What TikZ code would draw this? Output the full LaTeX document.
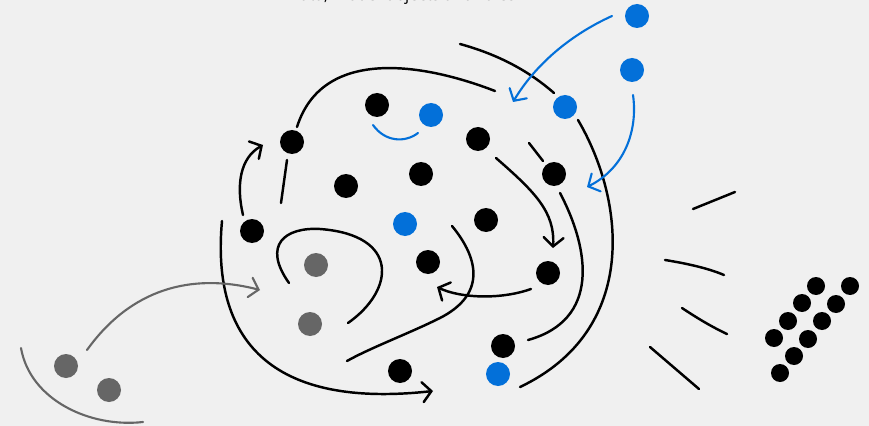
\documentclass[tikz,border=0pt]{standalone}
\usepackage{fontspec}
\setmainfont{Open Sans}
\usetikzlibrary{arrows.meta}
\definecolor{bg}{HTML}{F0F0F0}
\definecolor{blu}{HTML}{0370D9}
\definecolor{gry}{HTML}{666666}
\begin{document}
\begin{tikzpicture}[x=0.03cm,y=-0.03cm,
  dotk/.style={circle,fill=black,inner sep=0pt,minimum size=0.72cm},
  dotb/.style={circle,fill=blu,inner sep=0pt,minimum size=0.72cm},
  dotg/.style={circle,fill=gry,inner sep=0pt,minimum size=0.72cm},
  dots/.style={circle,fill=black,inner sep=0pt,minimum size=0.54cm},
  stroke/.style={line width=2.1pt,line cap=round},
  bstroke/.style={line width=1.8pt,line cap=round,draw=blu},
  gstroke/.style={line width=1.8pt,line cap=round,draw=gry},
  tip/.style={-{Straight Barb[length=7.5pt,width=17pt,line cap=round]}}]
\fill[bg] (0,0) rectangle (869,426);
\useasboundingbox (0,0) rectangle (869,426);
\node[anchor=base west,font=\fontsize{14}{16}\selectfont,text=black] (title) at (284,0.2) {Data, model objects and rules};
% black dots
\node[dotk] (k1) at (377,105) {};
\node[dotk] (k2) at (292,142) {};
\node[dotk] (k3) at (478,139) {};
\node[dotk] (k4) at (421,174) {};
\node[dotk] (k5) at (346,186) {};
\node[dotk] (k6) at (554,174) {};
\node[dotk] (k7) at (486,220) {};
\node[dotk] (k8) at (252,231) {};
\node[dotk] (k9) at (428,262) {};
\node[dotk] (k10) at (548,273) {};
\node[dotk] (k11) at (503,346) {};
\node[dotk] (k12) at (400,371) {};
% blue dots
\node[dotb] (b1) at (637,16) {};
\node[dotb] (b2) at (632,70) {};
\node[dotb] (b3) at (565,107) {};
\node[dotb] (b4) at (431,115) {};
\node[dotb] (b5) at (405,224) {};
\node[dotb] (b6) at (498,374) {};
% gray dots
\node[dotg] (g1) at (316,265) {};
\node[dotg] (g2) at (310,324) {};
\node[dotg] (g3) at (66,366) {};
\node[dotg] (g4) at (109,390) {};
% right cluster
\node[dots] (s1) at (816,286) {};
\node[dots] (s2) at (850,286) {};
\node[dots] (s3) at (802,303) {};
\node[dots] (s4) at (836,304) {};
\node[dots] (s5) at (788,321) {};
\node[dots] (s6) at (822,321) {};
\node[dots] (s7) at (774,338) {};
\node[dots] (s8) at (808,339) {};
\node[dots] (s9) at (794,356) {};
\node[dots] (s10) at (780,373) {};
% coordinates
\coordinate (a1s) at (222,221); \coordinate (a1e) at (433,391);
\coordinate (c2s) at (297,127); \coordinate (c2e) at (495,91);
\coordinate (c3s) at (460,44);  \coordinate (c3e) at (554,93);
\coordinate (c4s) at (578,120); \coordinate (c4e) at (520,387);
\coordinate (c5s) at (529,143); \coordinate (c5e) at (543,161);
\coordinate (c6s) at (560,193); \coordinate (c6e) at (528,340);
\coordinate (a7s) at (496,158); \coordinate (a7e) at (553,248);
\coordinate (a8s) at (531,289); \coordinate (a8e) at (437,287);
\coordinate (c9s) at (452,226); \coordinate (c9m) at (440,318); \coordinate (c9e) at (347,361);
\coordinate (c10s) at (289,283); \coordinate (c10m) at (320,229); \coordinate (c10e) at (348,323);
\coordinate (a11s) at (243,215); \coordinate (a11e) at (263,145);
\coordinate (c12s) at (287,160); \coordinate (c12e) at (281,203);
\coordinate (bs1) at (373,125); \coordinate (bs2) at (418,133);
\coordinate (ba1s) at (612,16); \coordinate (ba1e) at (513,102);
\coordinate (ba2s) at (633,95); \coordinate (ba2e) at (587,187);
\coordinate (ga1s) at (87,350); \coordinate (ga1e) at (260,290);
\coordinate (garcs) at (21,348); \coordinate (garce) at (143,422);
\coordinate (r1s) at (693,209); \coordinate (r1e) at (735,192);
\coordinate (r2s) at (665,260); \coordinate (r2e) at (724,275);
\coordinate (r3s) at (682,308); \coordinate (r3e) at (727,334);
\coordinate (r4s) at (650,347); \coordinate (r4e) at (699,389);
% black strokes
\draw[stroke,tip] (a1s) .. controls (212,330) and (260,410) .. (a1e);
\draw[stroke] (c2s) .. controls (322,48) and (420,62) .. (c2e);
\draw[stroke] (c3s) .. controls (500,55) and (530,72) .. (c3e);
\draw[stroke] (c4s) .. controls (625,200) and (640,330) .. (c4e);
\draw[stroke] (c5s) -- (c5e);
\draw[stroke] (c6s) .. controls (590,250) and (600,320) .. (c6e);
\draw[stroke,tip] (a7s) .. controls (535,192) and (555,212) .. (a7e);
\draw[stroke,tip] (a8s) .. controls (500,300) and (460,298) .. (a8e);
\draw[stroke] (c9s) .. controls (480,260) and (485,295) .. (c9m) .. controls (410,333) and (370,348) .. (c9e);
\draw[stroke] (c10s) .. controls (262,245) and (285,227) .. (c10m) .. controls (400,235) and (395,290) .. (c10e);
\draw[stroke,tip] (a11s) .. controls (236,185) and (240,158) .. (a11e);
\draw[stroke] (c12s) -- (c12e);
% right short lines
\draw[stroke] (r1s) -- (r1e);
\draw[stroke] (r2s) .. controls (690,264) and (710,269) .. (r2e);
\draw[stroke] (r3s) .. controls (697,318) and (712,327) .. (r3e);
\draw[stroke] (r4s) -- (r4e);
% blue strokes
\draw[bstroke] (bs1) .. controls (385,142) and (405,143) .. (bs2);
\draw[bstroke,tip] (ba1s) .. controls (570,35) and (535,65) .. (ba1e);
\draw[bstroke,tip] (ba2s) .. controls (638,130) and (625,168) .. (ba2e);
% gray strokes
\draw[gstroke,tip] (ga1s) .. controls (130,290) and (190,272) .. (ga1e);
\draw[gstroke] (garcs) .. controls (30,400) and (90,428) .. (garce);
\end{tikzpicture}
\end{document}
